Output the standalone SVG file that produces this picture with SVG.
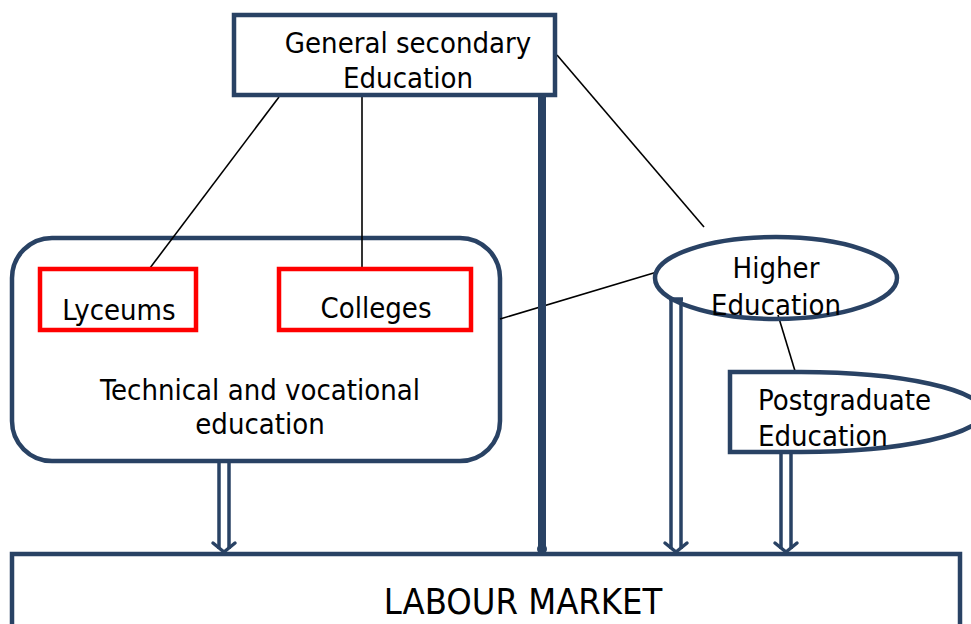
<svg xmlns="http://www.w3.org/2000/svg" width="971" height="624" viewBox="0 0 971 624">
<style>
  .nv { fill: #ffffff; stroke: #294264; stroke-width: 4.5; }
  .rd { fill: #ffffff; stroke: #ff0000; stroke-width: 4.5; }
  .t { font-family: "DejaVu Sans Condensed", "DejaVu Sans", sans-serif; font-stretch: condensed; font-size: 29px; fill: #000; }
  .c { text-anchor: middle; }
  .thin { stroke: #000; stroke-width: 1.6; fill: none; }
  .dbl { stroke: #294264; stroke-width: 3.5; fill: none; }
</style>
<rect width="971" height="624" fill="#ffffff"/>
<g id="labour-market">
  <rect class="nv" x="12" y="554" width="948" height="100"/>
  <text class="t c" x="523" y="614" style="font-size:36px">LABOUR MARKET</text>
</g>
<g id="technical">
  <rect class="nv" x="12" y="238" width="488" height="223" rx="40"/>
  <text class="t c" x="260" y="400">Technical and vocational</text>
  <text class="t c" x="260" y="434">education</text>
</g>
<g id="connectors">
  <line class="thin" x1="279" y1="97" x2="150" y2="268"/>
  <line class="thin" x1="362" y1="97" x2="362" y2="268"/>
  <line class="thin" x1="557" y1="55" x2="704" y2="227"/>
  <line class="thin" x1="500" y1="319" x2="657" y2="272"/>
  <line class="thin" x1="778" y1="315" x2="795" y2="371"/>
  <line x1="542" y1="95" x2="542" y2="549" stroke="#294264" stroke-width="8"/>
  <circle cx="542" cy="549" r="5" fill="#294264"/>
  <g id="arrow-tech">
    <line class="dbl" x1="219" y1="462" x2="219" y2="549"/>
    <line class="dbl" x1="229" y1="462" x2="229" y2="549"/>
    <path class="dbl" d="M213,543 L224,552 L235,543" stroke-linejoin="round" stroke-linecap="round"/>
  </g>
  <g id="arrow-higher">
    <line class="dbl" x1="671" y1="298" x2="671" y2="549"/>
    <line class="dbl" x1="681" y1="298" x2="681" y2="549"/>
    <line class="dbl" x1="669" y1="299" x2="683" y2="299"/>
    <path class="dbl" d="M665,543 L676,552 L687,543" stroke-linejoin="round" stroke-linecap="round"/>
  </g>
  <g id="arrow-postgrad">
    <line class="dbl" x1="781" y1="452" x2="781" y2="549"/>
    <line class="dbl" x1="791" y1="452" x2="791" y2="549"/>
    <path class="dbl" d="M775,543 L786,552 L797,543" stroke-linejoin="round" stroke-linecap="round"/>
  </g>
</g>
<g id="general-secondary">
  <rect class="nv" x="234" y="15" width="321" height="80"/>
  <text class="t c" x="408" y="53">General secondary</text>
  <text class="t c" x="408" y="88">Education</text>
</g>
<g id="lyceums">
  <rect class="rd" x="40" y="269" width="156" height="61"/>
  <text class="t c" x="119" y="320">Lyceums</text>
</g>
<g id="colleges">
  <rect class="rd" x="279" y="269" width="192" height="61"/>
  <text class="t c" x="376" y="318">Colleges</text>
</g>
<g id="higher-education">
  <ellipse cx="776" cy="278" rx="121" ry="41" fill="none" stroke="#294264" stroke-width="4.5"/>
  <text class="t c" x="776" y="278">Higher</text>
  <text class="t c" x="776" y="315">Education</text>
</g>
<g id="postgraduate">
  <path class="nv" d="M730,372 H801 A182,40 0 0 1 801,452 H730 Z"/>
  <text class="t" x="758" y="410">Postgraduate</text>
  <text class="t" x="758" y="446">Education</text>
</g>
</svg>
